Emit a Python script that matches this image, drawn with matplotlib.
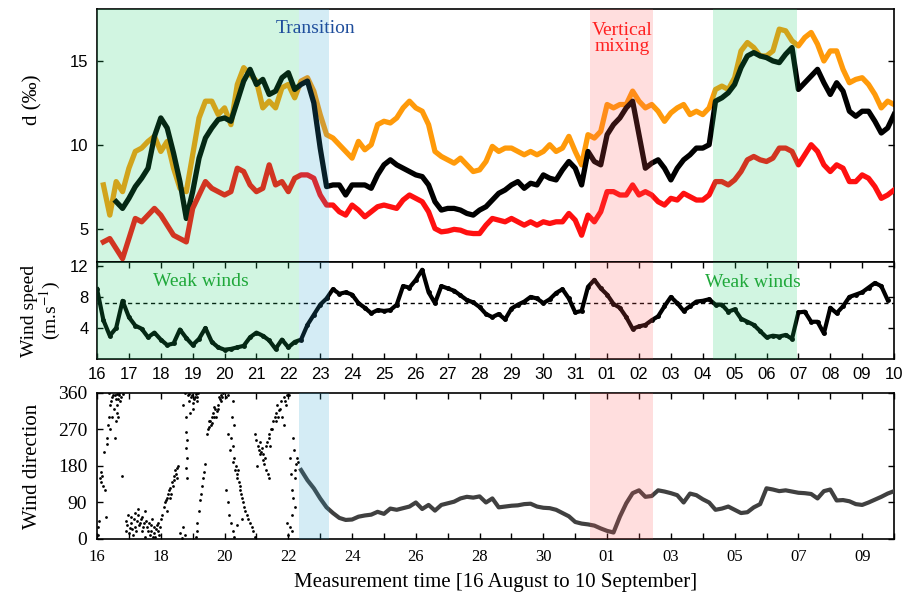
import numpy as np
import matplotlib.pyplot as plt

plt.rcParams['font.family'] = ['Liberation Serif', 'DejaVu Serif']
plt.rcParams['mathtext.fontset'] = 'stix'

nan = np.nan
# sample days after 16 August (every 0.2 day)
t = np.round(np.arange(0, 25.01, 0.2), 1)

d_orange = [nan, 7.6, 5.8, 7.8, 7.2, 8.6, 9.6, 9.8, 10.2, 10.5,
            9.6, 10.2, 8.6, 7.4, 7.2, 9.4, 11.6, 12.6, 12.6, 11.8,
            12.2, 11.2, 13.6, 14.6, 14.2, 13.8, 12.2, 12.6, 12.2, 13.4,
            13.6, 12.8, 13.8, 14.0, 13.2, 11.8, 10.6, 10.4, 10.0, 9.6,
            9.2, 10.2, 9.7, 10.0, 11.2, 11.4, 11.3, 11.6, 12.2, 12.6,
            12.2, 12.0, 11.2, 9.6, 9.3, 9.1, 8.9, 9.2, 8.8, 8.4,
            8.5, 9.0, 9.9, 9.6, 9.8, 9.8, 9.6, 9.4, 9.6, 9.4,
            9.6, 10.0, 9.6, 9.8, 10.5, 9.6, 8.8, 10.6, 10.4, 10.8,
            12.4, 12.2, 12.4, 12.4, 13.2, 12.6, 12.2, 12.4, 12.0, 11.4,
            11.9, 12.2, 12.4, 11.8, 12.0, 11.8, 12.2, 13.3, 13.5, 13.3,
            14.0, 15.6, 16.1, 15.8, 15.3, 15.3, 15.6, 16.9, 16.8, 16.2,
            15.9, 16.4, 16.7, 16.0, 15.0, 15.6, 15.6, 14.5, 13.7, 13.9,
            14.0, 13.6, 13.0, 12.2, 12.6, 12.4]
d_black = [nan, nan, nan, 6.6, 6.2, 6.8, 7.5, 8.0, 8.6, 10.5,
           11.6, 11.0, 9.5, 7.8, 5.6, 7.2, 9.2, 10.4, 11.0, 11.5,
           11.6, 11.4, 12.6, 13.8, 14.5, 13.6, 13.9, 13.0, 13.2, 14.0,
           14.3, 13.3, 13.6, 13.8, 12.5, 9.8, 7.5, 7.6, 7.6, 7.0,
           7.6, 7.6, 7.6, 7.4, 8.2, 8.8, 9.1, 8.8, 8.6, 8.4,
           8.2, 8.1, 7.6, 6.6, 6.1, 6.2, 6.2, 6.1, 5.9, 5.8,
           6.1, 6.3, 6.7, 7.1, 7.3, 7.6, 7.8, 7.4, 7.7, 7.6,
           8.2, 8.0, 7.9, 8.5, 9.0, 8.6, 7.6, 9.6, 9.0, 8.8,
           10.6, 11.2, 11.6, 12.2, 12.6, 10.6, 8.6, 8.9, 9.1, 8.6,
           7.9, 8.6, 9.1, 9.4, 9.8, 9.8, 10.0, 12.6, 12.8, 13.1,
           13.6, 14.6, 15.3, 15.5, 15.3, 15.2, 15.0, 14.9, 15.4, 15.8,
           13.3, 13.7, 14.1, 14.5, 13.7, 13.0, 13.7, 13.2, 12.0, 11.7,
           12.0, 12.0, 11.4, 10.7, 11.0, 11.8]
d_red = [nan, 4.2, 4.4, 3.8, 3.2, 4.4, 5.6, 5.4, 5.8, 6.2,
         5.8, 5.2, 4.6, 4.4, 4.2, 6.2, 7.0, 7.8, 7.4, 7.2,
         7.0, 7.2, 8.6, 8.4, 7.6, 7.2, 7.4, 8.8, 7.6, 7.8,
         7.2, 8.0, 8.2, 8.2, 8.0, 7.0, 6.4, 6.4, 6.0, 5.8,
         6.4, 6.1, 5.7, 6.0, 6.3, 6.4, 6.3, 6.2, 6.7, 7.0,
         6.8, 6.6, 6.0, 5.0, 4.8, 4.85, 4.95, 4.9, 4.75, 4.7,
         4.7, 5.2, 5.6, 5.5, 5.4, 5.6, 5.4, 5.2, 5.4, 5.2,
         5.4, 5.3, 5.4, 5.4, 5.9, 5.5, 4.6, 5.8, 5.4, 6.0,
         7.2, 7.2, 7.0, 7.0, 7.6, 7.0, 7.2, 7.0, 6.6, 6.4,
         6.8, 6.7, 7.1, 6.9, 6.7, 6.7, 7.0, 7.8, 7.8, 7.6,
         7.9, 8.4, 9.1, 9.3, 9.1, 9.0, 9.2, 9.8, 9.8, 9.6,
         8.8, 9.4, 10.0, 9.6, 8.8, 8.4, 8.8, 8.6, 7.8, 7.8,
         8.2, 8.0, 7.5, 6.8, 7.0, 7.3]
wind_speed = [9.0, 5.0, 3.0, 4.0, 7.5, 5.4, 4.3, 3.9, 2.8, 3.4,
              2.5, 1.8, 2.0, 3.8, 2.7, 1.8, 2.6, 4.0, 2.2, 1.5,
              1.2, 1.3, 1.5, 1.7, 2.8, 3.4, 3.0, 2.4, 1.3, 2.5,
              1.5, 2.2, 2.5, 4.4, 5.7, 7.0, 7.8, 9.0, 8.4, 8.6,
              8.3, 7.2, 6.6, 5.9, 6.3, 6.2, 6.3, 7.0, 9.4, 9.2,
              10.2, 11.5, 8.6, 7.2, 9.4, 9.1, 8.8, 8.2, 7.6, 7.3,
              6.7, 5.8, 5.4, 5.8, 5.1, 6.5, 7.0, 7.4, 8.0, 7.8,
              7.2, 7.7, 8.5, 9.0, 7.8, 6.0, 6.2, 9.3, 10.2, 9.1,
              8.3, 7.1, 6.6, 5.4, 3.9, 4.2, 4.4, 5.0, 5.5, 6.8,
              8.0, 7.2, 6.2, 6.8, 7.4, 7.5, 7.7, 7.0, 7.0, 6.1,
              6.4, 5.2, 4.8, 4.4, 3.6, 2.8, 3.0, 2.9, 3.1, 2.6,
              6.0, 6.1, 4.8, 4.8, 3.3, 6.6, 5.9, 6.8, 8.0, 8.3,
              8.6, 9.2, 9.8, 9.4, 7.6, nan]
weak_wind_limit = 7.2

# wind direction, first week: scattered rotating directions
dir_week_t = [0.02, 0.04, 0.06, 0.10, 0.12, 0.14, 0.16, 0.18, 0.21, 0.24, 0.27,
              0.30, 0.34, 0.38, 0.42, 0.46, 0.50, 0.52, 0.55, 0.58, 0.62, 0.66, 0.70, 0.74, 0.77, 0.80,
              0.90, 0.95, 1.00, 1.05, 1.10, 1.15, 1.20, 1.25, 1.30, 1.35, 1.40, 1.45, 1.50, 1.55,
              1.60, 1.65, 1.70, 1.75, 1.80, 1.85, 1.90, 1.95, 2.00,
              2.05, 2.10, 2.15, 2.20, 2.22, 2.28, 2.30, 2.35, 2.40, 2.45, 2.50,
              2.60, 2.65, 2.70, 2.75,
              2.80, 2.81, 2.80, 2.82, 2.80, 2.81,
              2.85, 2.90, 2.95, 3.00, 3.05, 3.10, 3.15, 3.00, 2.92,
              3.10, 3.12, 3.15, 3.20, 3.22, 3.25, 3.30, 3.32, 3.35, 3.38,
              3.45, 3.50, 3.55, 3.60, 3.62, 3.65, 3.70, 3.72, 3.75, 3.80, 3.85, 3.90, 3.95,
              4.05, 4.10, 4.25, 4.20, 4.25, 4.30, 4.35, 4.40, 4.45, 4.50, 4.55, 4.60, 4.70,
              4.80, 4.90, 4.95, 4.05, 4.10, 4.15, 4.20, 4.25, 4.30, 4.40, 4.55,
              4.95, 5.00, 5.05, 5.10, 5.15, 5.20, 5.25, 5.30, 5.35, 5.40, 5.30, 5.40, 5.50, 5.60, 5.70,
              5.75, 5.80, 5.85, 5.90, 5.95, 6.02, 6.05, 6.10, 6.12, 6.05, 6.00, 5.95, 6.15, 6.20, 6.25, 6.30]
dir_week = [30, 10, 45, 150, 165, 140, 155, 130, 215, 120, 55,
            235, 280, 360, 270, 300, 355, 320, 250, 290, 330, 345, 355, 350, 155, 358,
            20, 35, 15, 40, 25, 50, 30, 45, 60, 40, 55, 30, 70, 45,
            20, 10, 35, 5, 15, 25, 40, 10, 50,
            60, 80, 95, 70, 110, 100, 125, 140, 155, 170, 150,
            15, 2, 30, 10,
            265, 245, 225, 200, 175, 150,
            355, 340, 350, 335, 345, 358, 350, 320, 310,
            5, 20, 40, 70, 95, 110, 130, 150, 165, 185,
            260, 275, 290, 300, 285, 310, 320, 300, 315, 330, 345, 355, 360,
            350, 355, 340, 250, 230, 200, 180, 160, 140, 120, 100, 80, 60,
            40, 20, 5, 120, 90, 60, 40, 20, 5, 35, 50,
            260, 245, 230, 210, 215, 195, 185, 170, 160, 150, 230, 250, 270, 290, 319,
            320, 300, 280, 340, 355, 356, 200, 120, 60, 30, 10, 40, 250, 150, 185, 190]
dir_week_t_extra = [0.32, 0.36, 0.40, 0.44, 0.48, 0.56, 0.60, 0.64, 0.68, 0.72, 0.62, 0.66,
                    0.92, 0.98, 1.02, 1.08, 1.12, 1.18, 1.22, 1.28, 1.32, 1.38, 1.42, 1.48,
                    1.52, 1.58, 1.62, 1.68, 1.72, 1.78, 1.82, 1.88, 1.92, 1.98,
                    2.12, 2.18, 2.25, 2.32, 2.38, 2.42, 2.48, 2.52, 2.55,
                    2.75, 2.88, 2.98, 3.08, 3.12, 3.18, 2.70, 2.78,
                    3.48, 3.52, 3.58, 3.66, 3.68, 3.78, 3.82, 3.88, 3.92,
                    4.12, 4.18, 4.28, 4.32, 4.38, 4.42, 4.48, 4.52, 4.58, 4.65, 4.75, 4.85, 4.22, 4.30,
                    5.02, 5.08, 5.12, 5.18, 5.22, 5.28, 5.32, 5.38, 5.42, 5.45, 5.52, 5.58, 5.62, 5.65, 5.68,
                    5.78, 5.88, 5.92, 6.08, 6.18, 6.22, 6.28, 6.15, 6.20, 6.10]
dir_week_extra = [250, 300, 330, 340, 350, 355, 345, 358, 360, 340, 310, 300,
                  45, 60, 28, 55, 10, 65, 20, 75, 35, 50, 20, 40,
                  5, 30, 40, 20, 50, 30, 5, 35, 20, 30,
                  90, 100, 120, 110, 130, 145, 160, 175, 180,
                  360, 358, 356, 350, 340, 360, 330, 300,
                  270, 290, 280, 300, 325, 320, 350, 340, 350,
                  260, 220, 190, 170, 150, 170, 130, 110, 90, 70, 50, 30, 300, 280,
                  180, 220, 240, 225, 210, 200, 240, 260, 230, 270, 290, 300, 310, 330, 300,
                  340, 350, 330, 160, 220, 170, 200, 100, 80, 20]

# wind direction after the transition: steady easterly band
dir_t = [6.4, 6.6, 6.8, 7.0, 7.2, 7.4, 7.6, 7.8, 8.0, 8.2, 8.4, 8.6, 8.8, 9.0, 9.2, 9.4, 9.6, 9.8,
         10.0, 10.2, 10.4, 10.6, 10.8, 11.0, 11.2, 11.4, 11.6, 11.8, 12.0, 12.2, 12.4, 12.6, 12.8,
         13.0, 13.2, 13.4, 13.6, 13.8, 14.0, 14.2, 14.4, 14.6, 14.8, 15.0, 15.2, 15.4, 15.6, 15.8,
         16.0, 16.2, 16.4, 16.6, 16.8, 17.0, 17.2, 17.4, 17.6, 17.8, 18.0, 18.2, 18.4, 18.6, 18.8,
         19.0, 19.2, 19.4, 19.6, 19.8, 20.0, 20.2, 20.4, 20.6, 20.8, 21.0, 21.2, 21.4, 21.6, 21.8,
         22.0, 22.2, 22.4, 22.6, 22.8, 23.0, 23.2, 23.4, 23.6, 23.8, 24.0, 24.2, 24.4, 24.6, 24.8, 25.0]
dir_band = [170, 145, 125, 100, 78, 64, 52, 47, 48, 55, 58, 60, 67, 62, 75, 72, 76, 80,
            90, 74, 84, 70, 84, 88, 92, 100, 104, 102, 105, 90, 100, 78, 80,
            82, 83, 86, 87, 80, 77, 76, 72, 64, 56, 42, 38, 36, 33, 26,
            20, 16, 55, 88, 113, 120, 104, 106, 120, 117, 113, 108, 90, 112, 108,
            98, 90, 72, 75, 80, 72, 64, 66, 78, 86, 125, 122, 118, 120, 117,
            114, 113, 111, 100, 118, 122, 95, 96, 93, 86, 84, 90, 97, 104, 112, 118]

day_labels = ['16', '17', '18', '19', '20', '21', '22', '23', '24', '25', '26', '27', '28',
              '29', '30', '31', '01', '02', '03', '04', '05', '06', '07', '08', '09', '10']

# shaded periods (days after 16 Aug)
weak1 = (0, 6.35)
transition = (6.35, 7.28)
mixing = (15.47, 17.43)
weak2 = (19.33, 21.97)
green = (25/255, 205/255, 105/255)
blue = (40/255, 160/255, 205/255)
pink = (1.0, 90/255, 90/255)

fig = plt.figure(figsize=(9.12, 5.94), dpi=100)
ax1 = fig.add_axes([0.1064, 0.5589, 0.8739, 0.4259])
ax2 = fig.add_axes([0.1064, 0.3956, 0.8739, 0.1633])
ax3 = fig.add_axes([0.1064, 0.0926, 0.8739, 0.2458])

# isotope excess
ax1.plot(t, d_orange, color='#ff9a0a', lw=3.8, zorder=2)
ax1.plot(t, d_black, color='k', lw=3.8, zorder=3)
ax1.plot(t, d_red, color='#ff1010', lw=3.8, zorder=3)
ax1.set_xlim(0, 25)
ax1.set_ylim(3, 18.1)
ax1.set_yticks([5, 10, 15], ['5', '10', '15'], fontfamily='Liberation Sans', fontsize=12)
ax1.tick_params(axis='x', bottom=False, labelbottom=False)
ax1.tick_params(axis='y', direction='in', length=4.5, width=1, right=True, pad=6)
ax1.set_ylabel('d (‰)', fontsize=15)
ax1.yaxis.set_label_coords(-0.068, 0.64)
ax1.text(6.85, 16.95, 'Transition', color='#1f4e9c', fontsize=14, ha='center', va='center', zorder=7)
ax1.text(16.46, 16.35, 'Vertical\nmixing', color='#ff2020', fontsize=14, ha='center', va='center',
         linespacing=0.95, zorder=7)

# wind speed
ax2.plot(t, wind_speed, color='k', lw=3, marker='o', ms=2.5, zorder=3)
ax2.axhline(weak_wind_limit, color='k', lw=1, ls=(0, (3, 2.5)), zorder=4)
ax2.set_xlim(0, 25)
ax2.set_ylim(0, 12.5)
ax2.set_xticks(range(26), day_labels, fontfamily='Liberation Sans', fontsize=12)
ax2.set_yticks([4, 8, 12], ['4', '8', '12'], fontfamily='Liberation Sans', fontsize=12)
ax2.tick_params(direction='in', length=4.5, width=1, top=True, right=True, pad=6)
ax2.set_ylabel('Wind speed\n(m.s$^{-1}$)', fontsize=14, linespacing=1.0)
ax2.yaxis.set_label_coords(-0.043, 0.5)
ax2.text(3.25, 9.95, 'Weak winds', color='#1fa83a', fontsize=14, ha='center', va='center', zorder=7)
ax2.text(20.56, 9.8, 'Weak winds', color='#1fa83a', fontsize=14, ha='center', va='center', zorder=7)

# wind direction
ax3.scatter(dir_week_t + dir_week_t_extra, dir_week + dir_week_extra, s=4, c='k', lw=0, zorder=3)
ax3.plot(dir_t, dir_band, color='0.25', lw=3, zorder=3)
ax3.set_xlim(0, 25)
ax3.set_ylim(0, 360)
ax3.set_xticks(range(26), [lab if i % 2 == 0 else '' for i, lab in enumerate(day_labels)], fontsize=12)
ax3.set_yticks([0, 90, 180, 270, 360], ['0', '90', '180', '270', '360'], fontsize=14)
ax3.tick_params(direction='in', length=4.5, width=1, top=True, right=True, pad=7)
ax3.set_ylabel('Wind direction', fontsize=15)
ax3.yaxis.set_label_coords(-0.069, 0.5)
ax3.set_xlabel('Measurement time [16 August to 10 September]', fontsize=15, labelpad=6)

for ax in (ax1, ax2):
    ax.axvspan(*weak1, color=green, alpha=0.2, lw=0, zorder=5)
    ax.axvspan(*weak2, color=green, alpha=0.2, lw=0, zorder=5)
for ax in (ax1, ax2, ax3):
    ax.axvspan(*transition, color=blue, alpha=0.2, lw=0, zorder=5)
    ax.axvspan(*mixing, color=pink, alpha=0.2, lw=0, zorder=5)
    for s in ax.spines.values():
        s.set_linewidth(1.2)

fig.savefig('out.png', dpi=100)
